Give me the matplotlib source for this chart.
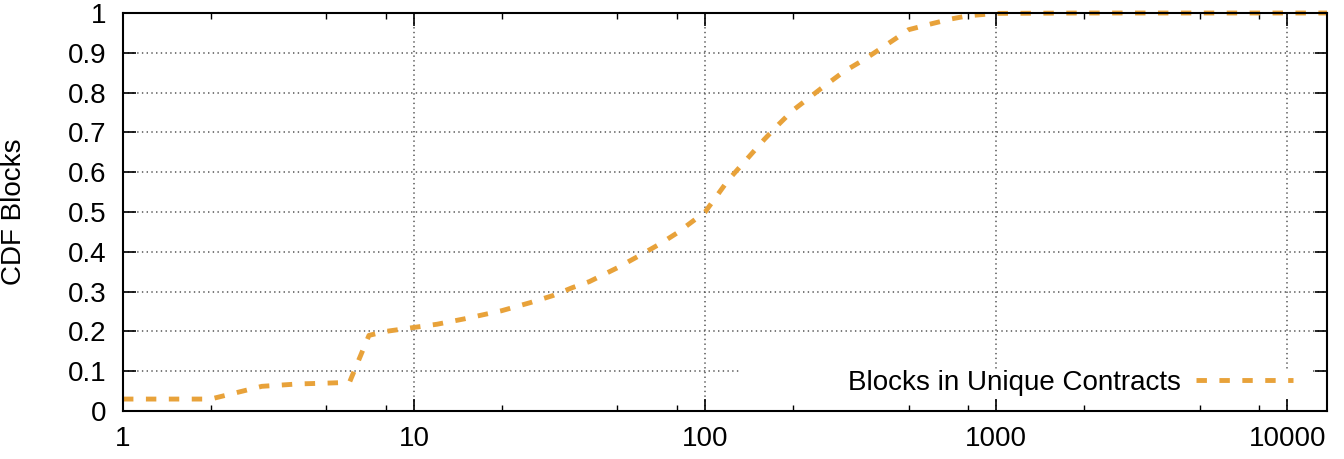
import matplotlib
matplotlib.use("Agg")
import matplotlib.pyplot as plt
from matplotlib.ticker import FixedLocator, FuncFormatter, NullFormatter
from matplotlib.patches import Rectangle

plt.rcParams['font.family'] = ['Liberation Sans', 'DejaVu Sans']
plt.rcParams['lines.scale_dashes'] = False

# Data
blocks = [1, 2, 3, 4, 5, 6, 7, 8, 10, 12, 15, 20, 25, 30, 35, 40, 50, 60,
          70, 80, 100, 120, 140, 160, 180, 200, 250, 300, 350, 400, 450,
          500, 600, 700, 800, 1000, 2000, 5000, 10000, 13700]
cdf = [0.03, 0.03, 0.062, 0.068, 0.07, 0.072, 0.19, 0.2, 0.21, 0.218,
       0.232, 0.252, 0.272, 0.29, 0.31, 0.325, 0.36, 0.392, 0.42, 0.447,
       0.5, 0.58, 0.635, 0.683, 0.722, 0.755, 0.81, 0.853, 0.882, 0.91,
       0.935, 0.958, 0.973, 0.985, 0.993, 0.999, 1.0, 1.0, 1.0, 1.0]
series_label = "Blocks in Unique Contracts"
x_ticks = [1, 10, 100, 1000, 10000]
y_ticks = [0, 0.1, 0.2, 0.3, 0.4, 0.5, 0.6, 0.7, 0.8, 0.9, 1]
y_label = "CDF Blocks"

W, H = 1344, 459
fig = plt.figure(figsize=(W / 100, H / 100), dpi=100)
L, R, T, B = 123, 1327, 13, 411
ax = fig.add_axes([L / W, 1 - B / H, (R - L) / W, (B - T) / H])

color = '#e8a23a'
ax.plot(blocks, cdf, color=color, lw=3.5, dashes=(7.5, 9.0),
        solid_capstyle='butt', dash_capstyle='butt', zorder=3,
        label=series_label, clip_on=False)

ax.set_xscale('log')
ax.set_xlim(1, 13700)
ax.set_ylim(0, 1)

ax.xaxis.set_major_locator(FixedLocator(x_ticks))
ax.xaxis.set_major_formatter(FuncFormatter(lambda v, p: f"{int(round(v))}"))
minors = [m * 10 ** d for d in range(0, 5) for m in (2, 5, 8)]
ax.xaxis.set_minor_locator(FixedLocator(minors))
ax.xaxis.set_minor_formatter(NullFormatter())
ax.yaxis.set_major_locator(FixedLocator(y_ticks))
ax.yaxis.set_major_formatter(FuncFormatter(lambda v, p: f"{v:g}"))

ax.tick_params(which='major', direction='in', length=9, width=1.2,
               top=True, right=True, labelsize=20, pad=12, colors='black')
ax.tick_params(axis='x', which='major', pad=11)
ax.tick_params(which='minor', direction='in', length=4.5, width=1.0,
               top=True, right=False)
ax.tick_params(axis='y', which='minor', left=False, right=False)

for s in ax.spines.values():
    s.set_linewidth(1.5)
    s.set_zorder(4)

ax.set_axisbelow(True)
ax.grid(True, which='major', color='#555555', lw=1.1, linestyle=(0, (1, 2.4)))

# white key background
ax.add_patch(Rectangle(((740 - L) / (R - L), (B - 397) / (B - T)),
                       (1310 - 740) / (R - L), (397 - 369) / (B - T),
                       transform=ax.transAxes, facecolor='white',
                       edgecolor='none', zorder=1.8))

leg = ax.legend(loc='center right',
                bbox_to_anchor=((1293 - L) / (R - L), (B - 383) / (B - T)),
                frameon=False, markerfirst=False, fontsize=20,
                handlelength=3.5, handletextpad=0.55, borderpad=0,
                borderaxespad=0)
leg.set_zorder(5)

fig.text(1 / W, 1 - 212 / H, y_label, rotation=90, ha='left', va='center',
         fontsize=20)

fig.savefig('out.png', dpi=100)
